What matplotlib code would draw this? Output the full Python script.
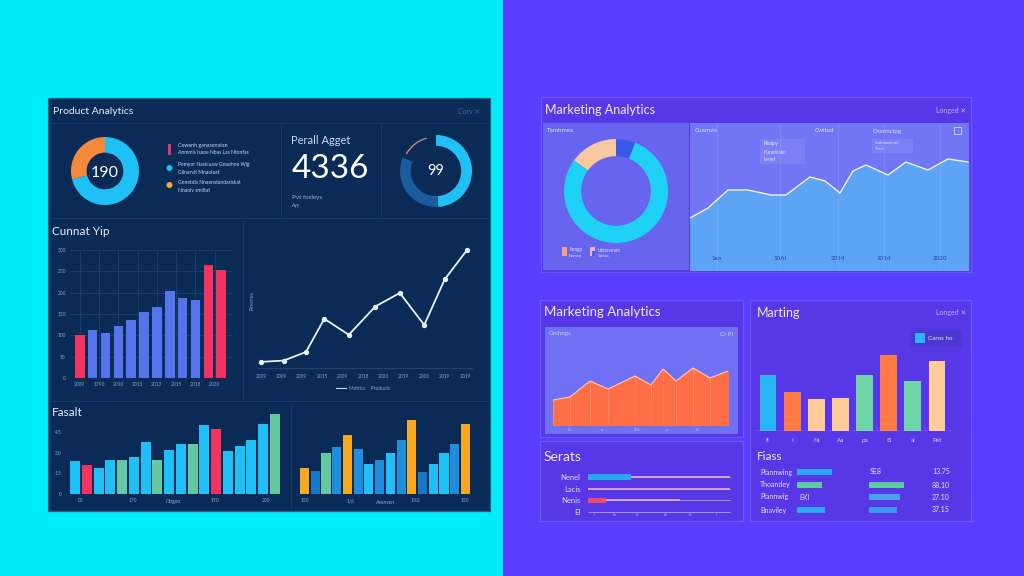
import matplotlib
matplotlib.use('Agg')
import matplotlib.pyplot as plt
from matplotlib.patches import Rectangle, Ellipse, Arc
from matplotlib.lines import Line2D

W, H = 1024, 576
plt.rcParams['font.family'] = ['Lato', 'DejaVu Sans']

# ---------------- data ----------------
product_donut_values = [29, 71]          # orange, cyan
product_donut_label = "190"
product_kpi_label = "4336"
product_gauge_values = [49, 32, 19]      # cyan, track, empty (clockwise from top)
product_gauge_label = "99"

cunnat_values = [101, 113, 105, 122, 136, 155, 166, 204, 187, 183, 265, 253]
cunnat_colors_key = ['r', 'b', 'b', 'b', 'b', 'b', 'b', 'b', 'b', 'b', 'r', 'r']
cunnat_yticks = [0, 50, 100, 150, 200, 250, 300]
cunnat_xlabels = ['2009', '1790', '2010', '2013', '2013', '2015', '2018', '2020']

line_x = [0, 1.1, 2.2, 3.1, 4.3, 5.6, 6.8, 8.0, 9.0, 10.1]
line_y = [5, 6, 13, 40, 27, 50, 61, 35, 72, 96]
line_xlabels = ['2009', '2009', '2009', '2015', '2009', '2018', '2020', '2019', '2001', '2019', '2019']

fasalt_left = [2.4, 2.1, 1.9, 2.5, 2.5, 2.7, 3.8, 2.5, 3.2, 3.6, 3.6, 5.0, 4.7, 3.1, 3.5, 3.9, 5.1, 5.8]
fasalt_left_key = ['c', 'r', 'c', 'c', 'g', 'c', 'c', 'g', 'c', 'c', 'g', 'c', 'r', 'c', 'c', 'c', 'c', 'g']
fasalt_right = [1.9, 1.7, 3.0, 3.4, 4.3, 3.3, 2.2, 2.5, 3.0, 3.9, 5.4, 1.6, 2.2, 3.0, 3.6, 5.1]
fasalt_right_key = ['o', 'd', 'g', 'b', 'o', 'b', 'c', 'b', 'c', 'b', 'o', 'd', 'c', 'c', 'b', 'o']
fasalt_yticks = [0, 1.5, 3.0, 4.5]

mkt_donut_values = [15, 79, 6]           # peach, cyan, blue
area_x = [0, 18, 38, 58, 81, 96, 120, 135, 150, 163, 176, 198, 216, 238, 258, 278]
area_y = [52, 62, 80, 80, 75, 75, 93, 89, 77, 99, 105, 95, 108, 100, 111, 108]
area_xticks = [27, 90, 148, 194, 250]
area_xlabels = ['1кл', '50Al', '2014', '1014', '2020']

orange_x = [0, 17, 37, 55, 82, 98, 110, 123, 140, 157, 175]
orange_y = [25, 28, 44, 36, 49, 40, 56, 44, 57, 47, 54]

serats_labels = ['Nenel', 'Lacis', 'Nenis', 'EI']
serats_bar = [30, 0, 13]
serats_track = [100, 100, 65]

marting_labels = ['fi', 'I', 'Ni', 'Aa', 'pa', 'Ei', 'ai', 'Pet']
marting_values = [56, 39, 32, 33, 56, 76, 50, 70]
marting_key = ['c', 'o', 'p', 'p', 'g', 'o', 'g', 'p']

fiass_labels = ['Plannwing', 'Thoandey', 'Plannwig', 'Bnaviley']
fiass_col1 = [35, 25, 0, 28]
fiass_col2 = [0, 35, 31, 28]
fiass_numbers = ['13.75', '88.10', '27.10', '37.15']

# ---------------- helpers ----------------
fig = plt.figure(figsize=(10.24, 5.76), dpi=100)
fig.patch.set_facecolor('#5B3DFF')


def R(x0, y0, x1, y1, fc, ec='none', lw=0, z=-5, alpha=1.0):
    fig.add_artist(Rectangle((x0 / W, 1 - y1 / H), (x1 - x0) / W, (y1 - y0) / H,
                             transform=fig.transFigure, facecolor=fc, edgecolor=ec,
                             linewidth=lw, zorder=z, alpha=alpha))


def L(x0, y0, x1, y1, color, lw=0.6, z=-4, alpha=1.0):
    fig.add_artist(Line2D([x0 / W, x1 / W], [1 - y0 / H, 1 - y1 / H], transform=fig.transFigure,
                          color=color, lw=lw, zorder=z, alpha=alpha))


def T(x, y, s, size=5, color='white', ha='left', va='center', **kw):
    fig.text(x / W, 1 - y / H, s, fontsize=size, color=color, ha=ha, va=va, **kw)


def DOT(x, y, d, color):
    fig.add_artist(Ellipse((x / W, 1 - y / H), d / W, d / H, transform=fig.transFigure,
                           facecolor=color, edgecolor='none', zorder=3))


def A(x0, y0, x1, y1):
    ax = fig.add_axes([x0 / W, 1 - y1 / H, (x1 - x0) / W, (y1 - y0) / H])
    ax.patch.set_alpha(0)
    for s in ax.spines.values():
        s.set_visible(False)
    return ax


CYAN = '#1FC0F5'
RED = '#F2335F'
GREEN = '#63C9A2'
ORANGE = '#F7A823'
DBLUE = '#1676C8'
BLUE = '#1E8EDC'
PERI = '#5573EA'
TICK = '#89A5C8'
cmap_small = {'c': CYAN, 'r': RED, 'g': GREEN, 'o': ORANGE, 'd': DBLUE, 'b': BLUE}

# ---------------- backgrounds ----------------
R(0, 0, 503, 576, '#00ECF8', z=-10)

# left dashboard panel
R(48, 98, 490, 511, '#0B2B57', ec='#2A5C8C', lw=0.9)
L(50, 123, 488, 123, '#17406F')
L(50, 218, 488, 218, '#17406F')
L(50, 401, 488, 401, '#17406F')
L(281, 125, 281, 216, '#17406F')
L(381, 125, 381, 216, '#17406F')
L(243, 222, 243, 398, '#17406F')
L(291, 405, 291, 508, '#17406F')

T(53, 111, 'Product Analytics', 7.5, '#E6F0FF')
T(480, 111, 'Corv ✕', 5, '#3C6CA0', ha='right')

# product donut
ax = A(71, 137, 139, 205)
ax.pie(product_donut_values, colors=['#F5883A', CYAN], startangle=90, counterclock=True,
       radius=1, wedgeprops=dict(width=0.46, edgecolor='none'))
ax.set_xlim(-1, 1); ax.set_ylim(-1, 1)
T(105, 177, product_donut_label, 11.5, 'white', ha='center', va='baseline')

# legend block
R(168, 144, 171, 155, '#E8336A', z=3)
DOT(169.5, 168, 6, CYAN)
DOT(169.5, 185, 6, '#F5A640')
T(178, 146, 'Cewenh ganasenatan', 3.8, '#C8D8F0')
T(178, 153, 'Anmmis Isaoe Nbas Las Ntonfas', 3.6, '#C8D8F0')
T(178, 165, 'Pemyor Nasicuaw Gnaohne Wig', 3.6, '#C8D8F0')
T(178, 172, 'Glinarvit Mnaoleat', 3.6, '#C8D8F0')
T(178, 183, 'Gnnetdis Nnaenstandariskat', 3.6, '#C8D8F0')
T(178, 190, 'Nnaolv smiltat', 3.6, '#C8D8F0')

# KPI
T(291, 140, 'Рerall Agget', 8, '#C8D8F0')
T(292, 178, product_kpi_label, 24, 'white', va='baseline')
T(292, 197, 'Pvt fosleys', 4.5, '#A0B8D8')
T(292, 205, 'Ayy', 3.5, '#A0B8D8')

# gauge
ax = A(400, 135, 472, 207)
ax.pie(product_gauge_values, colors=[CYAN, '#1C5C9E', 'none'], startangle=90, counterclock=False,
       radius=1, wedgeprops=dict(width=0.3, edgecolor='none'))
ax.add_patch(Arc((0, 0), 1.9, 1.9, theta1=106, theta2=150, color='#E08A8A', lw=0.9))
ax.set_xlim(-1, 1); ax.set_ylim(-1, 1)
T(436, 175, product_gauge_label, 10.5, 'white', ha='center', va='baseline')

# Cunnat bar chart
T(52, 231, 'Cunnat Yip', 8.5, '#E6F0FF')
ax = A(70, 250, 232, 378)
cols = [RED if k == 'r' else PERI for k in cunnat_colors_key]
ax.bar(range(len(cunnat_values)), cunnat_values, width=0.75, color=cols, zorder=2)
ax.set_ylim(0, 300)
ax.set_xlim(-0.76, 11.84)
ax.set_yticks(cunnat_yticks)
ax.set_xticks([0, 1.5, 3, 4.5, 6, 7.5, 9, 10.5])
ax.set_xticklabels(cunnat_xlabels)
ax.tick_params(length=0, labelsize=3.5, labelcolor=TICK, pad=3)
ax.grid(True, color='#1E4675', lw=0.5)
ax.set_axisbelow(True)

# line chart
ax = A(258, 245, 472, 368)
ax.plot(line_x, line_y, color='#E8F4FF', lw=1.3, marker='o', ms=2.8, zorder=3)
ax.set_xlim(-0.15, 10.34)
ax.set_ylim(0, 100)
ax.set_xticks(range(11))
ax.set_xticklabels(line_xlabels)
ax.set_yticks([])
ax.spines['bottom'].set_visible(True)
ax.spines['bottom'].set_color('#1E4675')
ax.tick_params(length=0, labelsize=3.5, labelcolor=TICK, pad=4)
T(252, 300, 'Revenue', 3.5, TICK, rotation=90, ha='center')
L(336, 388, 346, 388, '#C8D8F0', lw=0.8, z=3)
T(349, 388, 'Metrics    Products', 3.5, TICK)

# Fasalt bar charts
T(52, 412, 'Fasalt', 8.5, '#E6F0FF')
ax = A(66, 412, 284, 494)
ax.bar(range(len(fasalt_left)), fasalt_left, width=0.85,
       color=[cmap_small[k] for k in fasalt_left_key])
ax.set_xlim(-0.765, 17.765)
ax.set_ylim(0, 5.95)
ax.set_yticks(fasalt_yticks)
ax.set_yticklabels(['0', '1.5', '3.0', '4.5'])
ax.set_xticks([])
ax.tick_params(length=0, labelsize=3.5, labelcolor=TICK, pad=3)
for x, s in [(81, '00'), (133, '170'), (215, '1Y0'), (266, '200')]:
    T(x, 501, s, 3.5, TICK, ha='center')
T(173, 502, 'Παgpa', 4, TICK, ha='center', style='italic')

ax = A(298, 412, 472, 494)
ax.bar(range(len(fasalt_right)), fasalt_right, width=0.84,
       color=[cmap_small[k] for k in fasalt_right_key])
ax.set_xlim(-0.61, 15.61)
ax.set_ylim(0, 5.95)
ax.set_xticks([]); ax.set_yticks([])
for x, s in [(305, '150'), (351, '1/6'), (415, '1%0'), (465, '150')]:
    T(x, 501, s, 3.5, TICK, ha='center')
T(385, 502, 'Axxnsen', 4, TICK, ha='center', style='italic')

# ---------------- right side ----------------
PANEL = '#5838E6'
PEDGE = '#6A58F2'
# top panel
R(541, 97, 971, 272, PANEL, ec=PEDGE, lw=0.9)
R(543, 123, 689, 270, '#6765F0')
R(690, 123, 969, 270, '#7076F4')
T(545, 110, 'Marketing Analytics', 9, '#EDEBFF')
T(966, 110, 'Longed ✕', 5, '#B8B0FF', ha='right')

T(547, 131, 'Tamhmea', 4.5, '#E0E0FF')
ax = A(564, 139, 668, 243)
ax.pie(mkt_donut_values, colors=['#F8C9A0', '#1FD2F5', '#3A5BE8'], startangle=90,
       counterclock=True, radius=1, wedgeprops=dict(width=0.33, edgecolor='none'))
ax.set_xlim(-1, 1); ax.set_ylim(-1, 1)
R(562, 247, 567, 256, '#F7A07A', z=3)
T(569, 250, 'Ihmgy', 3.5, '#E0E0FF')
T(569, 256, 'Nemeo', 3, '#E0E0FF')
R(590, 247, 595, 256, '#F6B0C0', z=3)
R(592, 251, 595, 256, '#4466EE', z=3)
T(598, 250, 'Unnaveam', 3.5, '#E0E0FF')
T(598, 256, 'Saleao', 3, '#E0E0FF')

ax = A(690, 123, 969, 270)
ax.fill_between(area_x, area_y, 0, color='#5EA4F4', zorder=1)
ax.plot(area_x, area_y, color='#F0F4FF', lw=1.0, zorder=2)
ax.set_xlim(0, 279)
ax.set_ylim(0, 147)
ax.set_xticks(area_xticks)
ax.set_xticklabels(area_xlabels)
ax.set_yticks([])
ax.grid(True, axis='x', color='white', alpha=0.12, lw=0.6)
ax.tick_params(axis='x', length=0, pad=-10, labelsize=4.5, labelcolor='#3040A8')
T(695, 131, 'Cuamvo', 4.5, '#E0E0FF')
T(815, 131, 'Cwited', 4.5, '#E0E0FF')
T(873, 131, 'Cnanncipg', 4.5, '#E0E0FF')
R(954, 127, 961, 134, 'none', ec='#D0D0FF', lw=0.6, z=3)
R(760, 139, 805, 164, '#9098F6', z=2, alpha=0.35)
T(763, 144, 'Reapy', 4, '#F0F0FF')
T(763, 152, 'Kunnhlalel', 3.5, '#E0E0FF')
T(763, 159, 'Iwnel', 3.5, '#E0E0FF')
R(872, 139, 913, 153, '#9098F6', z=2, alpha=0.35)
T(875, 143, 'Insdnuwnmel', 3, '#E0E0FF')
T(875, 149, 'Tosel', 3, '#E0E0FF')

# bottom-left panel
R(540, 300, 743, 437, PANEL, ec=PEDGE, lw=0.9)
T(544, 312, 'Marketing Analytics', 9.5, '#EDEBFF')
R(545, 327, 738, 434, '#6F70F3')
T(549, 334, 'Gmhngs', 4.5, '#D0D0FF')
T(733, 334, 'CI PI', 4.5, '#D0D0FF', ha='right')
ax = A(553, 335, 728, 425)
ax.fill_between(orange_x, orange_y, 0, color='#FF6E45', zorder=1)
ax.plot(orange_x, orange_y, color='#FFC9B5', lw=0.8, zorder=3)
ax.vlines(orange_x, 0, orange_y, color='white', alpha=0.25, lw=0.5, zorder=2)
ax.set_xlim(0, 175)
ax.set_ylim(0, 90)
ax.set_xticks([]); ax.set_yticks([])
for x, s in [(570, '0k'), (602, 'x'), (637, '20k'), (667, 'x'), (697, '10')]:
    T(x, 430, s, 3, '#B8B8FF', ha='center')

# Serats panel
R(540, 441, 743, 521, PANEL, ec=PEDGE, lw=0.9)
T(544, 457, 'Serats', 10, '#EDEBFF')
ax = A(586, 470, 735, 518)
rows = list(range(len(serats_bar)))
ax.hlines(rows, 0, 100, color='#9C9CFF', lw=0.7, zorder=1)
ax.hlines(rows, 0, serats_track, color='#E0A8C0', lw=1.3, zorder=2)
ax.barh(rows, serats_bar, height=0.45, color=['#29A8F0', '#29A8F0', '#F04A6A'], zorder=3)
ax.hlines([3], 0, 100, color='#9C9CFF', lw=0.7)
ax.set_xlim(-1.4, 103.5)
ax.set_ylim(3.5, -0.6)
ax.set_yticks(range(len(serats_labels)))
ax.set_yticklabels(serats_labels)
ax.set_xticks([])
ax.tick_params(length=0, labelsize=5.5, labelcolor='#DCDCFF', pad=4)
for x, s in [(594, 'I'), (615, 'Im'), (637, 'I0'), (665, 'A'), (690, 'I0'), (717, 'II')]:
    T(x, 515, s, 2.8, '#B8B8FF', ha='center')

# Marting panel
R(750, 300, 971, 521, PANEL, ec=PEDGE, lw=0.9)
T(757, 313, 'Marting', 9, '#EDEBFF')
T(966, 313, 'Longed ✕', 5, '#B8B0FF', ha='right')
R(910, 330, 962, 347, '#4C37D4', z=-3)
R(915, 333, 925, 343, '#29B6F6', z=3)
T(928, 338, 'Caros ho', 4.5, '#DCDCFF')
ax = A(755, 345, 952, 431)
pcol = {'c': '#29B6F6', 'o': '#FF7A45', 'p': '#FFCB98', 'g': '#6FD6A8'}
ax.bar(range(len(marting_values)), marting_values, width=0.7,
       color=[pcol[k] for k in marting_key])
ax.set_xlim(-0.54, 7.62)
ax.set_ylim(0, 86)
ax.axhline(0, color='#E8E8FF', lw=0.9)
ax.set_xticks(range(len(marting_labels)))
ax.set_xticklabels(marting_labels)
ax.set_yticks([])
ax.tick_params(length=0, labelsize=4.5, labelcolor='#D0D0FF', pad=5)

# Fiass table
T(757, 456, 'Fiass', 8.5, '#EDEBFF')
fy = [472, 485, 497, 510]
for y, lab, num in zip(fy, fiass_labels, fiass_numbers):
    T(760, y, lab, 5, '#E0E0FF')
    T(932, y, num, 5, '#E0E0FF')
T(799, 497, 'EKI', 5, '#E0E0FF')
T(870, 472, 'SE8', 5, '#E0E0FF')
ax = A(797, 466, 860, 516)
ax.barh(range(4), fiass_col1, height=0.5, color=['#2AA8F0', '#5DC9A0', '#2AA8F0', '#2AA8F0'])
ax.set_xlim(0, 63); ax.set_ylim(3.5, -0.5)
ax.set_xticks([]); ax.set_yticks([])
ax = A(869, 466, 930, 516)
ax.barh(range(4), fiass_col2, height=0.5, color=['#2AA8F0', '#5DC9A0', '#4A9FF0', '#3B9AF0'])
ax.set_xlim(0, 61); ax.set_ylim(3.5, -0.5)
ax.set_xticks([]); ax.set_yticks([])

fig.savefig('out.png', dpi=100)
